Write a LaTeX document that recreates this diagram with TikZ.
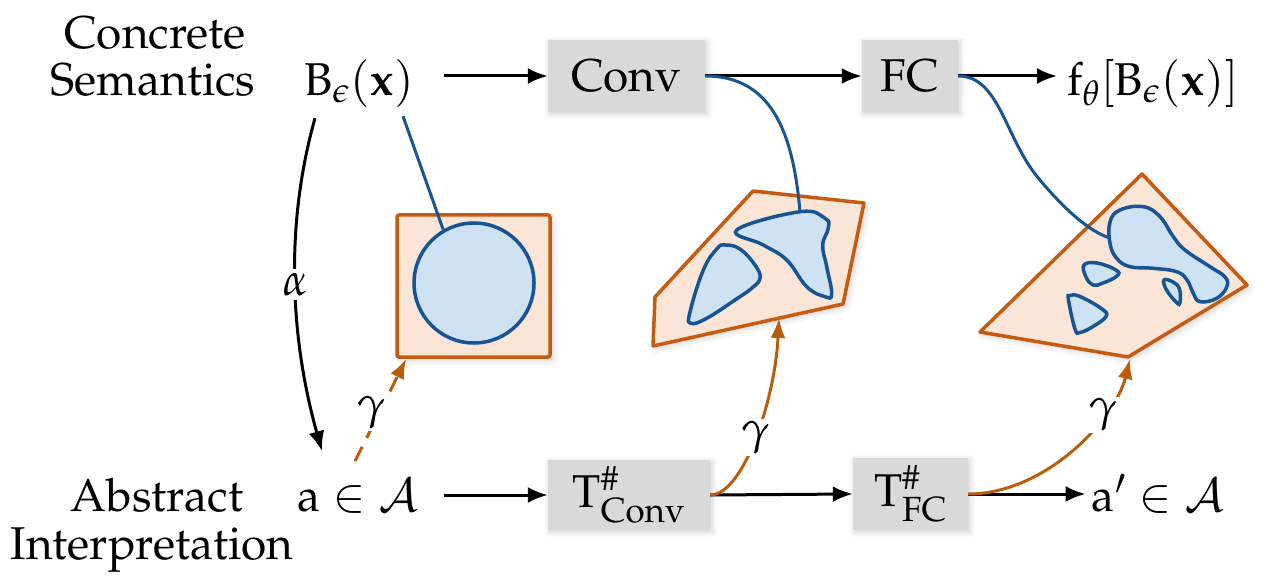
\documentclass[tikz,border=0pt]{standalone}
\usepackage[T1]{fontenc}
\IfFileExists{mathpazo.sty}{\usepackage{mathpazo}}{}
\newif\ifeul
\IfFileExists{eurm10.tfm}{\eultrue}{\eulfalse}
\ifeul
  \DeclareFontFamily{U}{myeur}{\skewchar\font'177}
  \DeclareFontShape{U}{myeur}{m}{n}{<->eurm10}{}
  \DeclareSymbolFont{eul}{U}{myeur}{m}{n}
  \DeclareMathSymbol{\eepsilon}{\mathord}{eul}{"0F}
  \DeclareMathSymbol{\etheta}{\mathord}{eul}{"12}
  \DeclareMathAlphabet{\mathe}{U}{myeur}{m}{n}
\else
  \newcommand\mathe[1]{\mathrm{#1}}
  \newcommand\eepsilon{\epsilon}
  \newcommand\etheta{\theta}
\fi
\usetikzlibrary{arrows.meta,shadows.blur}
\definecolor{boxgray}{HTML}{D9D9D9}
\definecolor{orng}{HTML}{C55A11}
\definecolor{peach}{HTML}{FBE5D6}
\definecolor{bluel}{HTML}{165496}
\definecolor{bluef}{HTML}{CFE2F3}
\definecolor{gamc}{HTML}{BA5D0B}
\begin{document}
\begin{tikzpicture}[x=1pt,y=-1pt,
  every node/.style={font=\fontsize{46}{47}\selectfont},
  lbl/.style={inner sep=0pt},
  opbox/.style={fill=boxgray, inner sep=0pt,
    blur shadow={shadow xshift=2pt, shadow yshift=-2pt, shadow blur radius=6pt, shadow opacity=20}},
  flow/.style={draw=black, line width=3pt, -{Latex[length=20pt,width=16pt]}},
  gam/.style={draw=gamc, line width=3pt, -{Latex[length=20pt,width=15pt]}},
  glab/.style={fill=white, inner sep=2pt, text=black},
  region/.style={draw=orng, fill=peach, line width=3.5pt, line join=round,
    blur shadow={shadow xshift=3pt, shadow yshift=-3pt, shadow blur radius=6pt, shadow opacity=18}},
  blob/.style={draw=bluel, fill=bluef, line width=3.5pt},
  link/.style={draw=bluel, line width=3pt},
]
\useasboundingbox (0,0) rectangle (1282,580);

% left labels
\node[lbl,anchor=base] (conc1) at (155,49) {Concrete};
\node[lbl,anchor=base] (conc2) at (153,96) {Semantics};
\node[lbl,anchor=base] (abs1) at (157,511) {Abstract};
\node[lbl,anchor=base] (abs2) at (152,559) {Interpretation};

% top row
\node[lbl,anchor=base] (bx) at (359,96) {$\mathe{B}_{\eepsilon}(\mathbf{x})$};
\node[opbox, minimum width=157pt, minimum height=72pt] (conv) at (626.5,76) {Conv};
\node[opbox, minimum width=96pt, minimum height=72pt] (fc) at (910,76) {FC};
\node[lbl,anchor=base] (fout) at (1153,96) {$\mathe{f}_{\etheta}[\mathe{B}_{\eepsilon}(\mathbf{x})]$};

% bottom row
\node[lbl,anchor=base] (a) at (358,511) {$\mathe{a}\in\mathcal{A}$};
\node[opbox, minimum width=162pt, minimum height=70pt] (tconv) at (629,495) {$\mathe{T}^{\#}_{\mathrm{Conv}}$};
\node[opbox, minimum width=115pt, minimum height=72pt] (tfc) at (910.5,494) {$\mathe{T}^{\#}_{\mathrm{FC}}$};
\node[lbl,anchor=base] (ap) at (1158,511) {$\mathe{a}'\in\mathcal{A}$};

% region 1
\node[region, rounded corners=2pt, minimum width=153pt, minimum height=142pt, inner sep=0pt] (sq1) at (473.5,286) {};
\node[blob, circle, minimum size=120pt, inner sep=0pt] (c1) at (474,283) {};

% region 2
\draw[region] (655,297) -- (753,191) -- (864,203) -- (843,304) -- (653,346) -- cycle;
\draw[blob] plot[smooth cycle, tension=0.7] coordinates {(736.7,230) (800,211.7) (825,218.3) (828.3,228) (822.7,245) (826.7,266.7) (831.7,294) (825,296.7) (806.7,286.7) (786.7,260) (763.3,245)};
\draw[blob] plot[smooth cycle, tension=0.7] coordinates {(725,245) (740,249) (755,265) (760,278) (752,288) (735,300) (706.7,318.3) (691,323.3) (690,312) (703.3,270) (716.7,249)};
\coordinate (b2top) at (800,212);
\coordinate (p2b) at (779,318);

% region 3
\draw[region] (1142,174) -- (1247,285) -- (1128,357) -- (980,332) -- cycle;
\draw[blob] plot[smooth cycle, tension=0.7] coordinates {(1110,222) (1120,210) (1143.3,206.7) (1160,216.7) (1173.3,236.7) (1185,250) (1210,266.7) (1225,277) (1226.7,287) (1216.7,298.3) (1200,301.7) (1193.3,293.3) (1187,280) (1176.7,271.7) (1153.3,268.3) (1130,266.7) (1116.7,258.3) (1110,243.3)};
\draw[blob] plot[smooth cycle, tension=0.7] coordinates {(1084,265) (1097,263) (1116,270) (1117,276) (1103,283) (1093,285) (1086,277)};
\draw[blob] plot[smooth cycle, tension=0.7] coordinates {(1164,280) (1173,282) (1179.5,289) (1180,302.5) (1176.5,302.5) (1166.5,290)};
\draw[blob] plot[smooth cycle, tension=0.7] coordinates {(1070,295.5) (1080,296.5) (1102,309) (1106,316.5) (1093,326.5) (1080,332.5) (1075,329) (1068.5,300)};
\coordinate (m3) at (1040,180);
\coordinate (b3left) at (1110,238);
\coordinate (p3b) at (1130,359);

% concrete flow
\draw[flow, shorten <=30pt] (conv.west -| bx.east) -- (conv.west);
\draw[flow] (conv.east) -- (fc.west);
\draw[flow, shorten >=10pt] (fc.east) -- (fc.east -| fout.west);

% abstract flow
\draw[flow, shorten <=25pt] (tconv.west -| a.east) -- (tconv.west);
\draw[flow] (tconv.east) -- (tfc.west);
\draw[flow, shorten >=6pt] (tfc.east) -- (tfc.east -| ap.west);

% alpha
\draw[flow] ([shift={(-44,10)}]bx.south) .. controls +(-31,110) and +(-31,-110) .. ([shift={(-36,-27)}]a.north)
  node[pos=0.5, glab, inner sep=4pt] (alab) {$\alpha$};

% blue links
\draw[link] ([shift={(44,8)}]bx.south) -- (c1.120);
\draw[link] (conv.east) .. controls +(65,0) and +(-7,-82) .. (b2top);
\draw[link] (fc.east) .. controls +(42,0) and +(-35,-40) .. (m3) .. controls +(25,30) and +(-20,-6) .. (b3left);

% gamma
\draw[gam, dash pattern=on 16pt off 10pt] ([shift={(-3,-17)}]a.north) -- ([xshift=11pt]sq1.south west)
  node[pos=0.47, glab, xshift=-8pt] (g1) {$\gamma$};
\draw[gam] (tconv.east) .. controls +(33,0) and +(-4,82) .. (p2b)
  node[pos=0.5, glab] (g2) {$\gamma$};
\draw[gam] (tfc.east) .. controls +(77,0) and +(-15,61) .. (p3b)
  node[pos=0.7, glab] (g3) {$\gamma$};
\end{tikzpicture}
\end{document}
